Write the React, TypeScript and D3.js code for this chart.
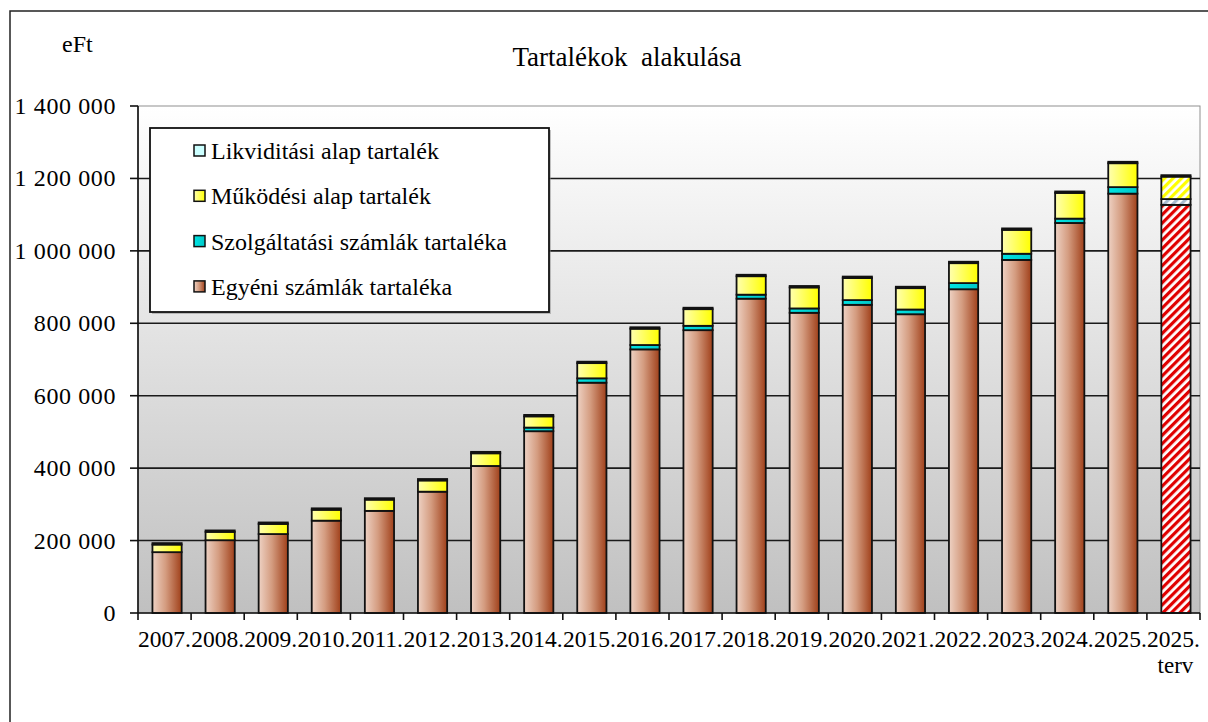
import React from "react";
import * as d3 from "d3";

const categories = ["2007.", "2008.", "2009.", "2010.", "2011.", "2012.", "2013.", "2014.", "2015.", "2016.", "2017.", "2018.", "2019.", "2020.", "2021.", "2022.", "2023.", "2024.", "2025.", "2025."];
const subLabels = ["", "", "", "", "", "", "", "", "", "", "", "", "", "", "", "", "", "", "", "terv"];
const planFlags = [false, false, false, false, false, false, false, false, false, false, false, false, false, false, false, false, false, false, false, true];

const egyeni = [168000, 201000, 218000, 255000, 282000, 335000, 406000, 502000, 636000, 728000, 781000, 868000, 829000, 851000, 825000, 894000, 975000, 1077000, 1158000, 1127000];
const szolgaltatasi = [0, 0, 0, 0, 0, 0, 0, 10000, 12000, 12000, 12000, 11000, 12000, 13000, 13000, 17000, 17000, 12000, 18000, 16000];
const mukodesi = [21000, 23000, 28000, 30000, 31000, 31000, 35000, 31000, 42000, 45000, 46000, 51000, 58000, 61000, 59000, 55000, 66000, 71000, 66000, 62000];
const likviditasi = [4000, 4000, 4000, 4000, 4000, 4000, 4000, 4000, 4000, 4000, 4000, 4000, 4000, 4000, 4000, 4000, 4000, 4000, 4000, 4000];

const seriesNames = ["Egyéni számlák tartaléka", "Szolgáltatási számlák tartaléka", "Működési alap tartalék", "Likviditási alap tartalék"];
const legendOrder = ["Likviditási alap tartalék", "Működési alap tartalék", "Szolgáltatási számlák tartaléka", "Egyéni számlák tartaléka"];
const yTicks = [0, 200000, 400000, 600000, 800000, 1000000, 1200000, 1400000];

const FONT = "'Liberation Serif', 'Times New Roman', serif";

export default function App() {
  const W = 1208, H = 722;
  const left = 138, right = 1200, top = 106, bottom = 613;
  const barShift = 2.5;

  const rows = categories.map((c, i) => ({
    idx: i,
    [seriesNames[0]]: egyeni[i],
    [seriesNames[1]]: szolgaltatasi[i],
    [seriesNames[2]]: mukodesi[i],
    [seriesNames[3]]: likviditasi[i],
  }));
  const stacked = d3.stack<any>().keys(seriesNames)(rows);

  const x = d3.scaleBand<number>().domain(categories.map((_, i) => i)).range([left, right]).padding(0);
  const y = d3.scaleLinear().domain([0, 1400000]).range([bottom, top]);
  const bw = x.bandwidth() * 0.55;

  const fmt = d3.formatLocale({ thousands: " ", grouping: [3], decimal: ",", currency: ["", ""] }).format(",d");

  const fills: Record<string, string> = {
    [seriesNames[0]]: "url(#gBrown)",
    [seriesNames[1]]: "url(#gCyan)",
    [seriesNames[2]]: "url(#gYellow)",
    [seriesNames[3]]: "#ccffff",
  };
  const planFills: Record<string, string> = {
    [seriesNames[0]]: "url(#pRed)",
    [seriesNames[1]]: "url(#pBlue)",
    [seriesNames[2]]: "url(#pYellow)",
    [seriesNames[3]]: "#ccffff",
  };

  return (
    <svg width={W} height={H} style={{ position: "absolute", left: 0, top: 0, background: "#fff" }} fontFamily={FONT}>
      <defs>
        <linearGradient id="gPlot" x1="0" y1="0" x2="0" y2="1">
          <stop offset="0%" stopColor="#ffffff" />
          <stop offset="100%" stopColor="#c0c0c0" />
        </linearGradient>
        <linearGradient id="gBrown" x1="0" y1="0" x2="1" y2="0">
          <stop offset="0%" stopColor="#eed2c4" />
          <stop offset="45%" stopColor="#d49c80" />
          <stop offset="100%" stopColor="#a0401a" />
        </linearGradient>
        <linearGradient id="gYellow" x1="0" y1="0" x2="1" y2="0">
          <stop offset="0%" stopColor="#ffffb0" />
          <stop offset="100%" stopColor="#ffff00" />
        </linearGradient>
        <linearGradient id="gCyan" x1="0" y1="0" x2="1" y2="0">
          <stop offset="0%" stopColor="#00e4e4" />
          <stop offset="100%" stopColor="#00c8c8" />
        </linearGradient>
        <pattern id="pRed" width="6" height="6" patternUnits="userSpaceOnUse" patternTransform="rotate(45)">
          <rect width="6" height="6" fill="#ffffff" />
          <rect width="3.2" height="6" fill="#e00000" />
        </pattern>
        <pattern id="pYellow" width="6" height="6" patternUnits="userSpaceOnUse" patternTransform="rotate(45)">
          <rect width="6" height="6" fill="#ffffff" />
          <rect width="3.2" height="6" fill="#ffff00" />
        </pattern>
        <pattern id="pBlue" width="6" height="6" patternUnits="userSpaceOnUse" patternTransform="rotate(45)">
          <rect width="6" height="6" fill="#ffffff" />
          <rect width="3.2" height="6" fill="#a8bcd0" />
        </pattern>
      </defs>

      {/* outer frame */}
      <rect x={10} y={11} width={1210} height={730} fill="#fff" stroke="#222" strokeWidth={1.5} />

      {/* title */}
      <text x={627} y={66} textAnchor="middle" fontSize={27} fill="#000" xmlSpace="preserve">{"Tartalékok\u00a0 alakulása"}</text>
      <text x={62} y={52} fontSize={24} fill="#000">eFt</text>

      {/* plot area */}
      <rect x={left} y={top} width={right - left} height={bottom - top} fill="url(#gPlot)" stroke="#909090" strokeWidth={1} />
      {yTicks.filter(t => t > 0 && t < 1400000).map(t => (
        <line key={t} x1={left} x2={right} y1={y(t)} y2={y(t)} stroke="#1a1a1a" strokeWidth={1.6} />
      ))}

      {/* bars */}
      {stacked.map(s => (
        <g key={s.key}>
          {s.map((d, i) => {
            const y0 = y(d[0]), y1 = y(d[1]);
            const h = y0 - y1;
            if (h <= 0) return null;
            const cx = (x(i) as number) + x.bandwidth() / 2 + barShift;
            return (
              <rect key={i} x={cx - bw / 2} y={y1} width={bw} height={h}
                fill={planFlags[i] ? planFills[s.key] : fills[s.key]}
                stroke="#111" strokeWidth={1.8} />
            );
          })}
        </g>
      ))}

      {/* y axis */}
      <line x1={left} x2={left} y1={top} y2={bottom} stroke="#111" strokeWidth={1.6} />
      {yTicks.map(t => (
        <g key={t}>
          <line x1={left - 8} x2={left} y1={y(t)} y2={y(t)} stroke="#111" strokeWidth={1.6} />
          <text x={116} y={y(t) + 8} textAnchor="end" fontSize={24} letterSpacing={0.6} fill="#000">{fmt(t)}</text>
        </g>
      ))}

      {/* x axis */}
      <line x1={left} x2={right} y1={bottom} y2={bottom} stroke="#111" strokeWidth={1.6} />
      {d3.range(categories.length + 1).map(i => {
        const xx = left + i * x.bandwidth();
        return <line key={i} x1={xx} x2={xx} y1={bottom} y2={bottom + 7} stroke="#111" strokeWidth={1.6} />;
      })}
      {categories.map((c, i) => {
        const cx = (x(i) as number) + x.bandwidth() / 2;
        return (
          <g key={i}>
            <text x={cx} y={647} textAnchor="middle" fontSize={23.5} fill="#000">{c}</text>
            {subLabels[i] && <text x={cx + 2} y={673} textAnchor="middle" fontSize={23} fill="#000">{subLabels[i]}</text>}
          </g>
        );
      })}

      {/* legend */}
      <rect x={152} y={130} width={399} height={184} fill="#888" opacity={0.5} />
      <rect x={150} y={128} width={399} height={184} fill="#fff" stroke="#111" strokeWidth={1.8} />
      {legendOrder.map((name, k) => {
        const base = 159 + k * 45.3;
        return (
          <g key={name}>
            <rect x={194} y={base - 14} width={11} height={11} fill={fills[name]} stroke="#111" strokeWidth={1.5} />
            <text x={211} y={base} fontSize={24} fill="#000">{name}</text>
          </g>
        );
      })}
    </svg>
  );
}
